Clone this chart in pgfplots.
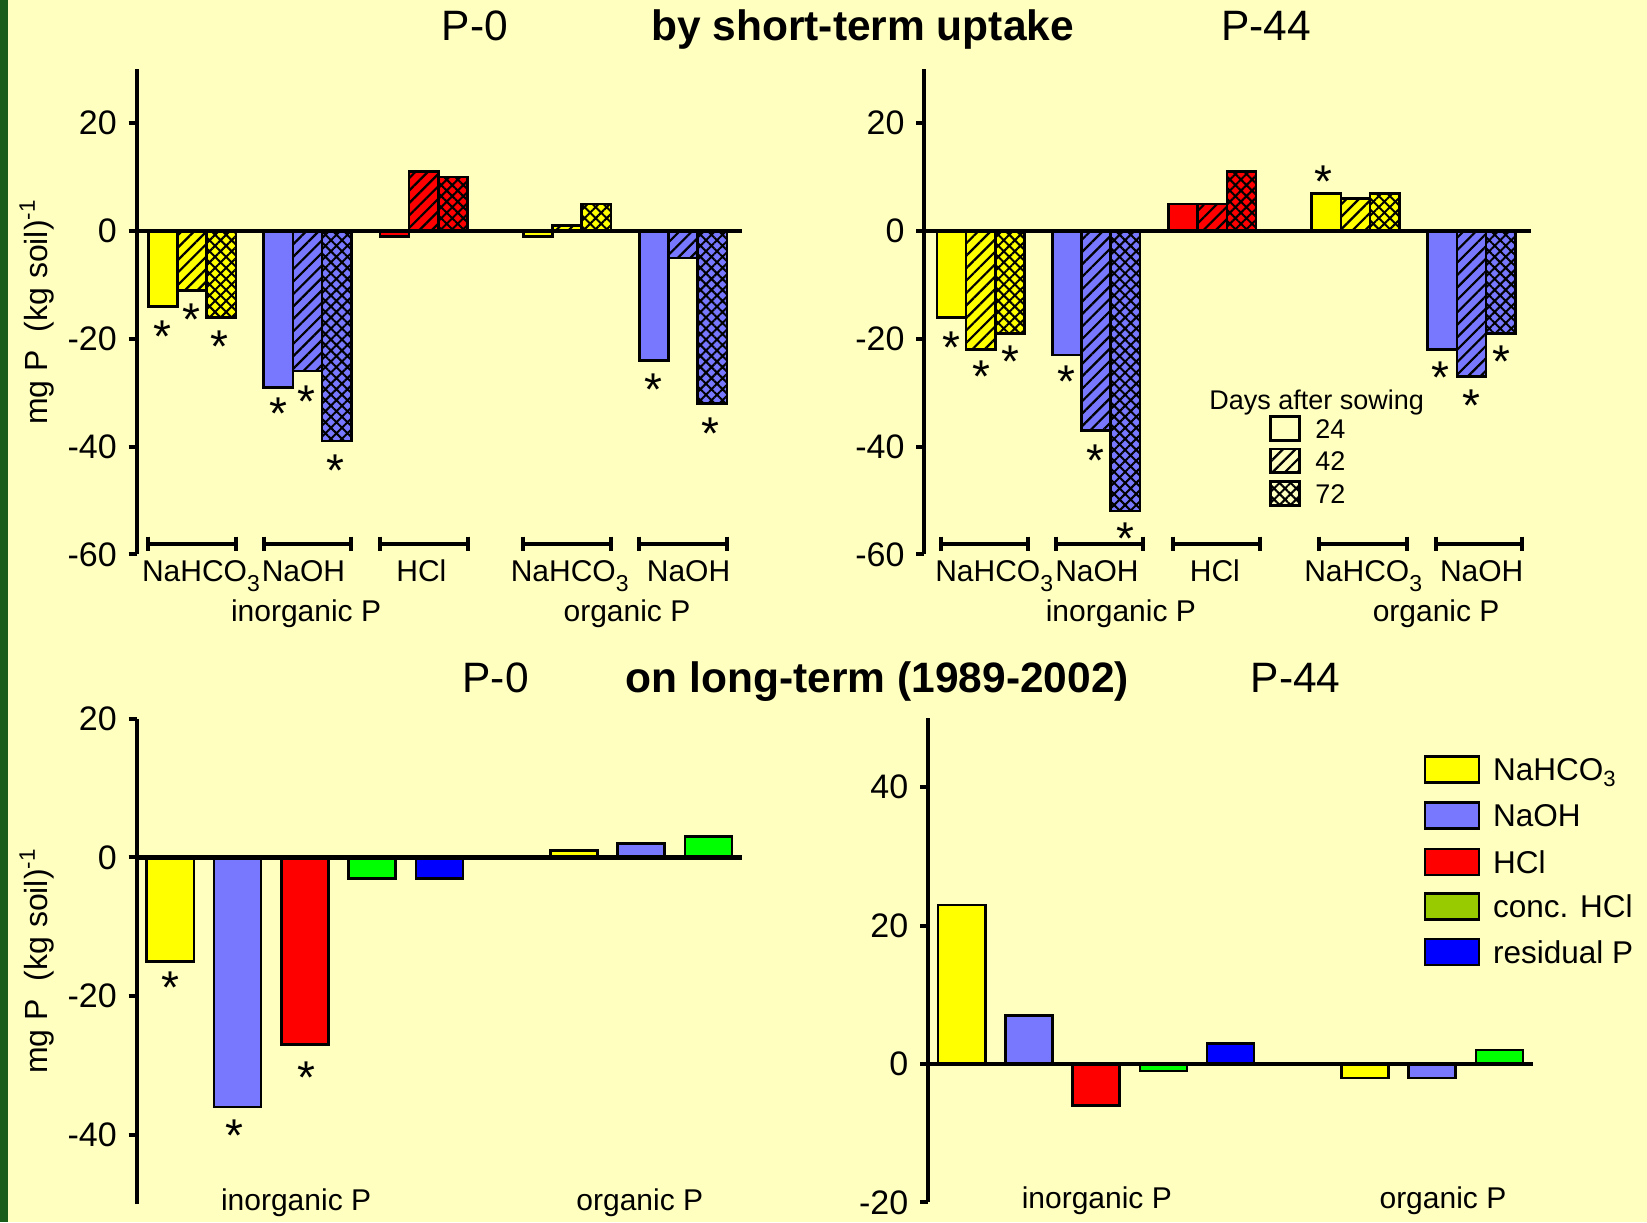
\documentclass[border=0pt]{standalone}
\usepackage{fontspec}
\setmainfont{Liberation Sans}
\usepackage{pgfplots}
\pgfplotsset{compat=1.18}
\usetikzlibrary{patterns.meta}
\definecolor{bg}{HTML}{FFFFC0}
\definecolor{strip}{HTML}{1A5C1A}
\definecolor{cY}{HTML}{FFFF00}
\definecolor{cB}{HTML}{7878FF}
\definecolor{cR}{HTML}{FF0000}
\definecolor{cG}{HTML}{00FF00}
\definecolor{cGl}{HTML}{99CC00}
\definecolor{cD}{HTML}{0000FF}
\tikzset{
  h42/.style={postaction={pattern={Lines[angle=45,distance=4.4pt,line width=1.1pt]},pattern color=black}},
  h72/.style={postaction={pattern={Hatch[angle=45,distance=3.9pt,line width=1.0pt]},pattern color=black}},
  lab/.style={anchor=base, inner sep=0pt, font=\fontsize{15}{15}\selectfont},
  leg/.style={anchor=base west, inner sep=0pt, font=\fontsize{13.5}{13.5}\selectfont},
  legb/.style={anchor=base west, inner sep=0pt, font=\fontsize{15.75}{15.75}\selectfont},
  ttl/.style={anchor=base, inner sep=0pt, font=\fontsize{21.25}{21.25}\selectfont},
}
\newcommand{\sub}[1]{\raisebox{-5pt}{\fontsize{11.5}{11.5}\selectfont #1}}
\pgfplotsset{
  panel/.style={
    scale only axis, axis y line=left, axis x line=none,
    axis line style={-, line width=2pt},
    tick align=outside, major tick length=4pt,
    ytick style={line width=2pt, black},
    yticklabel style={font=\fontsize{17}{17}\selectfont, inner sep=0pt, xshift=-5.75pt},
    clip=false, anchor=south west,
  },
  bb/.style={ybar, bar width=1, bar shift=0pt, draw=black, line width=1.3pt, mark=none},
  bw/.style={ybar, bar width=0.7, bar shift=0pt, draw=black, line width=1.3pt, mark=none},
  zl/.style={black, line width=2.2pt, mark=none, forget plot},
  br/.style={black, line width=2pt, mark=|, mark size=3.5pt, mark options={line width=2pt}, forget plot},
}
\newcommand{\sig}[2]{\node[font=\fontsize{23}{23}\selectfont, anchor=base, yshift=-13.2pt, inner sep=0pt] at (axis cs:#1,#2) {*};}
\begin{document}
\begin{tikzpicture}
\useasboundingbox (0,0) rectangle (823.5pt,611pt);
\fill[bg] (0,0) rectangle (823.5pt,611pt);
\fill[strip] (0,0) rectangle (4pt,611pt);
% titles
\node[ttl] at (237.5pt,590.5pt) {P-0};
\node[ttl] at (431.3pt,590.5pt) {\bfseries by short-term uptake};
\node[ttl] at (633pt,590.5pt) {P-44};
\node[ttl] at (247.85pt,264.85pt) {P-0};
\node[ttl] at (438.75pt,264.85pt) {\bfseries on long-term (1989-2002)};
\node[ttl] at (647.85pt,264.85pt) {P-44};
% y labels
\node[rotate=90, anchor=base, inner sep=0pt, font=\fontsize{16}{16}\selectfont] at (23.7pt,455pt) {mg P\ \ (kg soil)\textsuperscript{-1}};
\node[rotate=90, anchor=base, inner sep=0pt, font=\fontsize{16}{16}\selectfont] at (23.7pt,130.5pt) {mg P\ \ (kg soil)\textsuperscript{-1}};

% ---------- top left: P-0 short-term ----------
\begin{axis}[panel, at={(68.35pt,333.85pt)}, width=302.65pt, height=242.45pt,
  xmin=-0.40, xmax=20.33, ymin=-60, ymax=30,
  ytick={-60,-40,-20,0,20}, yticklabels={-60,-40,-20,0,20}]
\addplot[bb, fill=cY] coordinates {(0.5,-14) (13.34,-1)};
\addplot[bb, fill=cY, h42] coordinates {(1.5,-11) (14.34,1)};
\addplot[bb, fill=cY, h72] coordinates {(2.5,-16) (15.34,5)};
\addplot[bb, fill=cB] coordinates {(4.45,-29) (17.31,-24)};
\addplot[bb, fill=cB, h42] coordinates {(5.45,-26) (18.31,-5)};
\addplot[bb, fill=cB, h72] coordinates {(6.45,-39) (19.31,-32)};
\addplot[bb, fill=cR] coordinates {(8.43,-1)};
\addplot[bb, fill=cR, h42] coordinates {(9.43,11)};
\addplot[bb, fill=cR, h72] coordinates {(10.43,10)};
\addplot[zl] coordinates {(-0.40,0) (20.33,0)};
\addplot[br] coordinates {(0,-58) (3,-58)};
\addplot[br] coordinates {(3.95,-58) (6.95,-58)};
\addplot[br] coordinates {(7.93,-58) (10.93,-58)};
\addplot[br] coordinates {(12.84,-58) (15.84,-58)};
\addplot[br] coordinates {(16.81,-58) (19.81,-58)};
\node[lab] at (axis cs:1.80,-65.1) {NaHCO\sub{3}};
\node[lab] at (axis cs:5.31,-65.1) {NaOH};
\node[lab] at (axis cs:9.35,-65.1) {HCl};
\node[lab] at (axis cs:14.43,-65.1) {NaHCO\sub{3}};
\node[lab] at (axis cs:18.5,-65.1) {NaOH};
\node[lab] at (axis cs:5.4,-72.5) {inorganic P};
\node[lab] at (axis cs:16.39,-72.5) {organic P};
\sig{0.47}{-17.6}\sig{1.49}{-14.4}\sig{2.45}{-19.5}
\sig{4.45}{-31.9}\sig{5.41}{-29.8}\sig{6.4}{-42.6}
\sig{17.3}{-27.5}\sig{19.24}{-35.7}
\end{axis}

% ---------- top right: P-44 short-term ----------
\begin{axis}[panel, at={(462.2pt,333.85pt)}, width=303.3pt, height=242.45pt,
  xmin=-0.43, xmax=20.35, ymin=-60, ymax=30,
  ytick={-60,-40,-20,0,20}, yticklabels={-60,-40,-20,0,20}]
\addplot[bb, fill=cY] coordinates {(0.5,-16) (13.34,7)};
\addplot[bb, fill=cY, h42] coordinates {(1.5,-22) (14.34,6)};
\addplot[bb, fill=cY, h72] coordinates {(2.5,-19) (15.34,7)};
\addplot[bb, fill=cB] coordinates {(4.45,-23) (17.31,-22)};
\addplot[bb, fill=cB, h42] coordinates {(5.45,-37) (18.31,-27)};
\addplot[bb, fill=cB, h72] coordinates {(6.45,-52) (19.31,-19)};
\addplot[bb, fill=cR] coordinates {(8.43,5)};
\addplot[bb, fill=cR, h42] coordinates {(9.43,5)};
\addplot[bb, fill=cR, h72] coordinates {(10.43,11)};
\addplot[zl] coordinates {(-0.43,0) (20.35,0)};
\addplot[br] coordinates {(0.15,-58) (3.13,-58)};
\addplot[br] coordinates {(4.07,-58) (7.05,-58)};
\addplot[br] coordinates {(8.08,-58) (11.06,-58)};
\addplot[br] coordinates {(13.1,-58) (16.1,-58)};
\addplot[br] coordinates {(17.1,-58) (20.05,-58)};
\node[lab] at (axis cs:1.96,-65.1) {NaHCO\sub{3}};
\node[lab] at (axis cs:5.48,-65.1) {NaOH};
\node[lab] at (axis cs:9.52,-65.1) {HCl};
\node[lab] at (axis cs:14.6,-65.1) {NaHCO\sub{3}};
\node[lab] at (axis cs:18.66,-65.1) {NaOH};
\node[lab] at (axis cs:6.3,-72.5) {inorganic P};
\node[lab] at (axis cs:17.1,-72.5) {organic P};
\sig{0.51}{-19.7}\sig{1.51}{-25.1}\sig{2.53}{-22.3}
\sig{4.42}{-26}\sig{5.44}{-40.6}\sig{6.47}{-55.2}
\sig{13.24}{11.1}\sig{17.26}{-25.3}\sig{18.32}{-30.4}\sig{19.35}{-22.3}
\end{axis}

% ---------- bottom left: P-0 long-term ----------
\begin{axis}[panel, at={(68.35pt,8.9pt)}, width=302.65pt, height=242.75pt,
  xmin=-0.5, xmax=8.5, ymin=-50, ymax=20,
  ytick={-40,-20,0,20}, yticklabels={-40,-20,0,20}]
\addplot[bw, fill=cY] coordinates {(0,-15) (6,1)};
\addplot[bw, fill=cB] coordinates {(1,-36) (7,2)};
\addplot[bw, fill=cR] coordinates {(2,-27)};
\addplot[bw, fill=cG] coordinates {(3,-3) (8,3)};
\addplot[bw, fill=cD] coordinates {(4,-3)};
\addplot[zl] coordinates {(-0.5,0) (8.5,0)};
\node[lab] at (axis cs:1.87,-50.85) {inorganic P};
\node[lab] at (axis cs:6.98,-50.85) {organic P};
\sig{0}{-17.2}\sig{0.95}{-38.6}\sig{2.02}{-30.2}
\end{axis}

% ---------- bottom right: P-44 long-term ----------
\begin{axis}[panel, at={(464.05pt,9.8pt)}, width=302.45pt, height=242.2pt,
  xmin=-0.5, xmax=8.5, ymin=-20, ymax=50,
  ytick={-20,0,20,40}, yticklabels={-20,0,20,40}]
\addplot[bw, fill=cY] coordinates {(0,23) (6,-2)};
\addplot[bw, fill=cB] coordinates {(1,7) (7,-2)};
\addplot[bw, fill=cR] coordinates {(2,-6)};
\addplot[bw, fill=cG] coordinates {(3,-1) (8,2)};
\addplot[bw, fill=cD] coordinates {(4,3)};
\addplot[zl] coordinates {(-0.5,0) (8.5,0)};
\node[lab] at (axis cs:2.01,-20.9) {inorganic P};
\node[lab] at (axis cs:7.16,-20.9) {organic P};
\end{axis}

% ---------- legend: days after sowing ----------
\node[anchor=base, inner sep=0pt, font=\fontsize{13.5}{13.5}\selectfont] at (658.35pt,406.35pt) {Days after sowing};
\draw[line width=1.3pt] (635.35pt,390.65pt) rectangle (649.65pt,402.65pt);
\draw[line width=1.3pt, h42] (635.35pt,374.85pt) rectangle (649.65pt,386.5pt);
\draw[line width=1.3pt, h72] (635.35pt,358.15pt) rectangle (649.65pt,370.15pt);
\node[leg] at (657.5pt,391.8pt) {24};
\node[leg] at (657.5pt,375.85pt) {42};
\node[leg] at (657.5pt,359.3pt) {72};

% ---------- legend: fractions ----------
\draw[line width=1.3pt, fill=cY] (712.5pt,219.85pt) rectangle (739.5pt,232.65pt);
\draw[line width=1.3pt, fill=cB] (712.5pt,196.85pt) rectangle (739.5pt,209.85pt);
\draw[line width=1.3pt, fill=cR] (712.5pt,173.5pt) rectangle (739.5pt,186.5pt);
\draw[line width=1.3pt, fill=cGl] (712.5pt,151.35pt) rectangle (739.5pt,164.35pt);
\draw[line width=1.3pt, fill=cD] (712.5pt,128.5pt) rectangle (739.5pt,141.5pt);
\node[legb] at (746.35pt,220.6pt) {NaHCO\textsubscript{3}};
\node[legb] at (746.35pt,197.7pt) {NaOH};
\node[legb] at (746.35pt,174.4pt) {HCl};
\node[legb] at (746.35pt,152.2pt) {conc. HCl};
\node[legb] at (746.35pt,129.4pt) {residual P};
\end{tikzpicture}
\end{document}
